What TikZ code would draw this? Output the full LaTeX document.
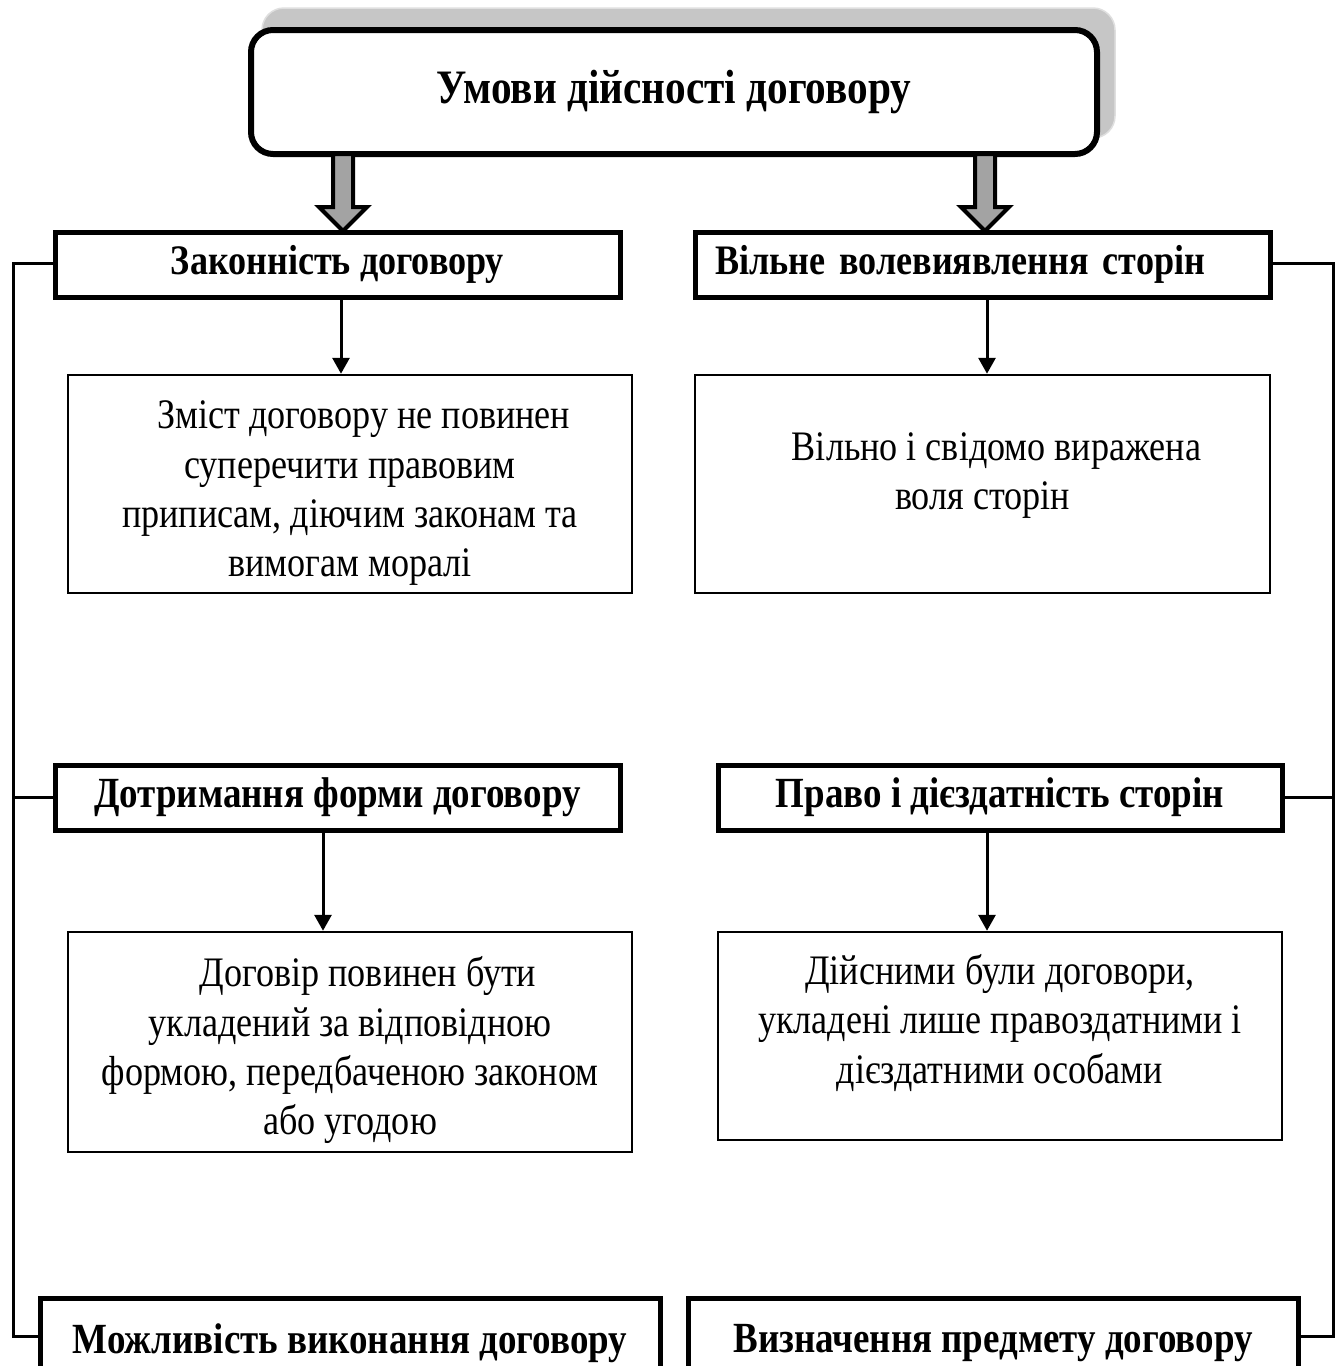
\documentclass[tikz,border=0pt]{standalone}
\usepackage{fontspec}
\setmainfont{Liberation Serif}[FakeStretch=0.86]
\usetikzlibrary{arrows.meta,calc}
\tikzset{
  txt/.style={font=\fontsize{42}{49.3}\selectfont, align=center},
  head/.style={draw, line width=5pt, font=\fontsize{43}{48}\selectfont\bfseries, inner sep=0pt, fill=white},
  content/.style={draw, line width=2.5pt, inner sep=0pt, fill=white, txt},
  conn/.style={line width=3pt},
  arr/.style={line width=3pt, -{Triangle[length=16pt,width=17pt]}},
  bigarrow/.style={fill=gray!72, draw=black, line width=4pt, line join=miter},
}
\begin{document}
\begin{tikzpicture}[x=1pt,y=-1pt]
\useasboundingbox (0,0) rectangle (1340,1366);
\clip (0,0) rectangle (1340,1366);
% shadow of title
\fill[gray!45, rounded corners=22pt] (262,8) rectangle (1115,138);
\draw[gray!25, line width=1.5pt, rounded corners=22pt] (262,8) rectangle (1115,138);
% title
\node[draw, line width=6pt, rounded corners=22pt, fill=white, minimum width=846pt, minimum height=124pt, inner sep=0pt,
      font=\fontsize{48}{56}\selectfont\bfseries] (title) at (674,92) {Умови дійсності договору};
% level 1 headers
\node[head, minimum width=565pt, minimum height=65pt, font=\fontsize{42}{48}\selectfont\bfseries] (h1L) at (337.5,264.5) {Законність договору};
\node[head, minimum width=575pt, minimum height=65pt, text width=535pt, align=left, inner xsep=20pt, font=\fontsize{42}{48}\selectfont\bfseries] (h1R) at (982.5,264.5) {Вільне волевиявлення сторін};
% big arrows
\foreach \n/\cx in {a1/343, a2/985}{
  \draw[bigarrow] (\cx-10,154) -- (\cx-10,207) -- (\cx-24,207) -- (\cx,231) -- (\cx+24,207) -- (\cx+10,207) -- (\cx+10,154) -- cycle;
}
% contents level 1
\node[content, minimum width=564pt, minimum height=218pt] (c1L) at (350,484) {\hspace*{28pt}Зміст договору не повинен\\ суперечити правовим\\ приписам, діючим законам та\\ вимогам моралі\\[-59pt]};
\node[content, minimum width=575pt, minimum height=218pt] (c1R) at (982.5,484) {\hspace*{28pt}Вільно і свідомо виражена\\ воля сторін\\[-23pt]};
% level 2 headers
\node[head, minimum width=565pt, minimum height=65pt] (h2L) at (337.5,797.5) {Дотримання форми договору};
\node[head, minimum width=564pt, minimum height=65pt] (h2R) at (1000,797.5) {Право і дієздатність сторін};
% contents level 2
\node[content, minimum width=564pt, minimum height=220pt] (c2L) at (350,1042) {\hspace*{36pt}Договір повинен бути\\ укладений за відповідною\\ формою, передбаченою законом\\ або угодою\\[-57pt]};
\node[content, minimum width=564pt, minimum height=208pt] (c2R) at (1000,1036) {Дійсними були договори,\\ укладені лише правоздатними і\\ дієздатними особами\\[-15pt]};
% level 3 headers (cut off at bottom)
\node[head, minimum width=620pt, minimum height=90pt] (h3L) at (350,1343) {Можливість виконання договору};
\node[head, minimum width=610pt, minimum height=90pt] (h3R) at (993,1343) {Визначення предмету договору};
% small arrows
\draw[arr] ([xshift=3.5pt]h1L.south) -- ([xshift=3.5pt]h1L.south |- c1L.north);
\draw[arr] ([xshift=4.5pt]h1R.south) -- ([xshift=4.5pt]h1R.south |- c1R.north);
\draw[arr] ([xshift=-14.5pt]h2L.south) -- ([xshift=-14.5pt]h2L.south |- c2L.north);
\draw[arr] ([xshift=-13pt]h2R.south) -- ([xshift=-13pt]h2R.south |- c2R.north);
% side brackets
\coordinate (lt) at (13,263);
\coordinate (lb) at (13,1336);
\coordinate (rt) at (1333,263);
\coordinate (rb) at (1333,1336);
\draw[conn] (h1L.west |- lt) -- (lt) -- (lb) -- (h3L.west |- lb);
\draw[conn] (lt |- h2L.west) -- (h2L.west);
\draw[conn] (h1R.east |- rt) -- (rt) -- (rb) -- (h3R.east |- rb);
\draw[conn] (rt |- h2R.east) -- (h2R.east);
\end{tikzpicture}
\end{document}
